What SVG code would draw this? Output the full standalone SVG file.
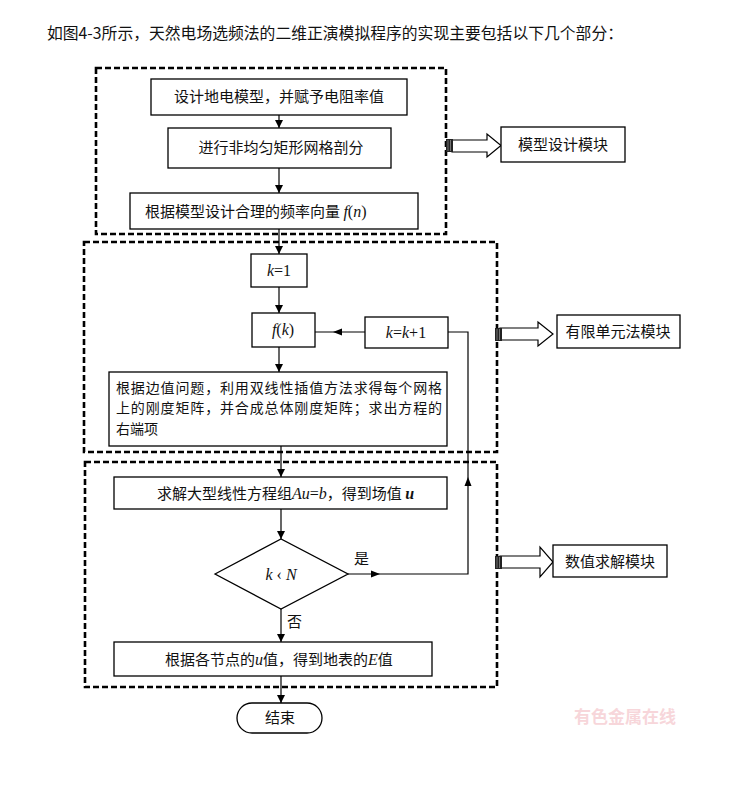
<svg xmlns="http://www.w3.org/2000/svg" width="730" height="792" viewBox="0 0 730 792">
<style>
.bg{fill:#fff}
.box{fill:#fff;stroke:#000;stroke-width:1.3}
.grp{fill:none;stroke:#000;stroke-width:2.6;stroke-dasharray:6 3}
.t{font-family:"Noto Sans CJK SC","Noto Sans",sans-serif;font-size:15px;fill:#111}
.s{font-size:14px}
.m{font-family:"Liberation Serif",serif;font-size:16px;fill:#111}
.i{font-style:italic}
.ln{fill:none;stroke:#000;stroke-width:1.2}
.ah{fill:#000}
.ha{fill:#fff;stroke:#000;stroke-width:1.2}
</style>
<defs>
<marker id="arr" viewBox="0 0 10 10" refX="10" refY="5" markerWidth="8" markerHeight="8" markerUnits="userSpaceOnUse" orient="auto"><path d="M0,0 L10,5 L0,10 z" fill="#000"/></marker>
<g id="tail"><rect x="0" y="0" width="7" height="13" fill="#222"/><line x1="2" y1="1" x2="2" y2="12" stroke="#888" stroke-width="0.8"/><line x1="4.5" y1="1" x2="4.5" y2="12" stroke="#888" stroke-width="0.8"/></g>
</defs>
<rect class="bg" x="0" y="0" width="730" height="792"/>
<text x="47" y="39" font-family="'Noto Sans CJK SC',sans-serif" font-size="15.8" fill="#111" textLength="576" lengthAdjust="spacing">如图4-3所示，天然电场选频法的二维正演模拟程序的实现主要包括以下几个部分：</text>

<g id="groups">
<rect class="grp" x="96" y="68" width="350" height="166"/>
<rect class="grp" x="84" y="242" width="413" height="210"/>
<rect class="grp" x="85" y="462" width="412" height="225"/>
</g>

<g id="connectors">
<line class="ln" x1="279" y1="115" x2="279" y2="128" marker-end="url(#arr)"/>
<line class="ln" x1="279" y1="168" x2="279" y2="193" marker-end="url(#arr)"/>
<line class="ln" x1="279" y1="229" x2="279" y2="254" marker-end="url(#arr)"/>
<line class="ln" x1="279" y1="287" x2="279" y2="313" marker-end="url(#arr)"/>
<line class="ln" x1="279" y1="347" x2="279" y2="372" marker-end="url(#arr)"/>
<line class="ln" x1="281" y1="446" x2="281" y2="477" marker-end="url(#arr)"/>
<line class="ln" x1="281" y1="509" x2="281" y2="539" marker-end="url(#arr)"/>
<line class="ln" x1="281" y1="609" x2="281" y2="642" marker-end="url(#arr)"/>
<line class="ln" x1="281" y1="676" x2="281" y2="703" marker-end="url(#arr)"/>
<line class="ln" x1="365" y1="332" x2="315" y2="332"/>
<path class="ah" d="M333,332 L342,328.5 L342,335.5 z"/>
<polyline class="ln" points="348,574 468,574 468,332 448,332"/>
<path class="ah" d="M380,574 L371,570.5 L371,577.5 z"/>
<path class="ah" d="M468,477 L464.5,486 L471.5,486 z"/>
<text class="t" x="354" y="564">是</text>
<text class="t" x="287" y="627">否</text>
</g>

<g id="n1"><rect class="box" x="151" y="79" width="256" height="36"/><text class="t" x="279" y="102" text-anchor="middle">设计地电模型，并赋予电阻率值</text></g>
<g id="n2"><rect class="box" x="168" y="128" width="223" height="40"/><text class="t" x="281" y="153" text-anchor="middle">进行非均匀矩形网格剖分</text></g>
<g id="n3"><rect class="box" x="130" y="193" width="288" height="36"/><text class="t" x="145" y="217">根据模型设计合理的频率向量 <tspan class="m i">f</tspan><tspan class="m">(</tspan><tspan class="m i">n</tspan><tspan class="m">)</tspan></text></g>

<g id="n4"><rect class="box" x="251" y="254" width="56" height="33"/><text class="m" x="279" y="276" text-anchor="middle"><tspan class="i">k</tspan>=1</text></g>
<g id="n5"><rect class="box" x="252" y="313" width="63" height="34"/><text class="m" x="283" y="335" text-anchor="middle"><tspan class="i">f</tspan>(<tspan class="i">k</tspan>)</text></g>
<g id="n6"><rect class="box" x="365" y="317" width="83" height="31"/><text class="m" x="406" y="338" text-anchor="middle"><tspan class="i">k</tspan>=<tspan class="i">k</tspan>+1</text></g>
<g id="n7"><rect class="box" x="109" y="372" width="338" height="74"/>
<text class="t s" x="116" y="392.5" textLength="326" lengthAdjust="spacing">根据边值问题，利用双线性插值方法求得每个网格</text>
<text class="t s" x="116" y="413" textLength="326" lengthAdjust="spacing">上的刚度矩阵，并合成总体刚度矩阵；求出方程的</text>
<text class="t s" x="116" y="433.5">右端项</text></g>

<g id="n8"><rect class="box" x="114" y="477" width="333" height="32"/><text class="t" x="157" y="499">求解大型线性方程组<tspan class="m i">Au</tspan><tspan class="m">=</tspan><tspan class="m i">b</tspan>，得到场值 <tspan class="m i" font-weight="bold">u</tspan></text></g>
<g id="n9"><polygon class="box" points="215,574 281,539 348,574 281,609"/><text class="m" x="281" y="580" text-anchor="middle"><tspan class="i">k</tspan> ‹ <tspan class="i">N</tspan></text></g>
<g id="n10"><rect class="box" x="114" y="642" width="318" height="34"/><text class="t" x="165" y="665">根据各节点的<tspan class="m i" font-size="13">u</tspan>值，得到地表的<tspan class="m i" font-size="12">E</tspan>值</text></g>
<g id="n11"><rect class="box" x="237" y="703" width="85" height="30" rx="15" ry="15"/><text class="t" x="280" y="723" text-anchor="middle">结束</text></g>

<g id="m1"><polygon class="ha" points="452,140 487,140 487,134 501,145.5 487,157 487,152 452,152"/><use href="#tail" x="446" y="139"/><rect class="box" x="501" y="127" width="124" height="35"/><text class="t" x="563" y="150" text-anchor="middle">模型设计模块</text></g>
<g id="m2"><polygon class="ha" points="500,328 538,328 538,322 553,334 538,346 538,340 500,340"/><use href="#tail" x="495" y="328"/><rect class="box" x="557" y="315" width="123" height="33"/><text class="t" x="618" y="337" text-anchor="middle">有限单元法模块</text></g>
<g id="m3"><polygon class="ha" points="500,556 540,556 540,547 553,562 540,577 540,568 500,568"/><use href="#tail" x="495" y="556"/><rect class="box" x="553" y="545" width="114" height="32"/><text class="t" x="610" y="567" text-anchor="middle">数值求解模块</text></g>

<text x="625" y="723" text-anchor="middle" font-family="'Noto Sans CJK SC',sans-serif" font-weight="bold" font-size="17" fill="#f7d6da">有色金属在线</text>
</svg>
